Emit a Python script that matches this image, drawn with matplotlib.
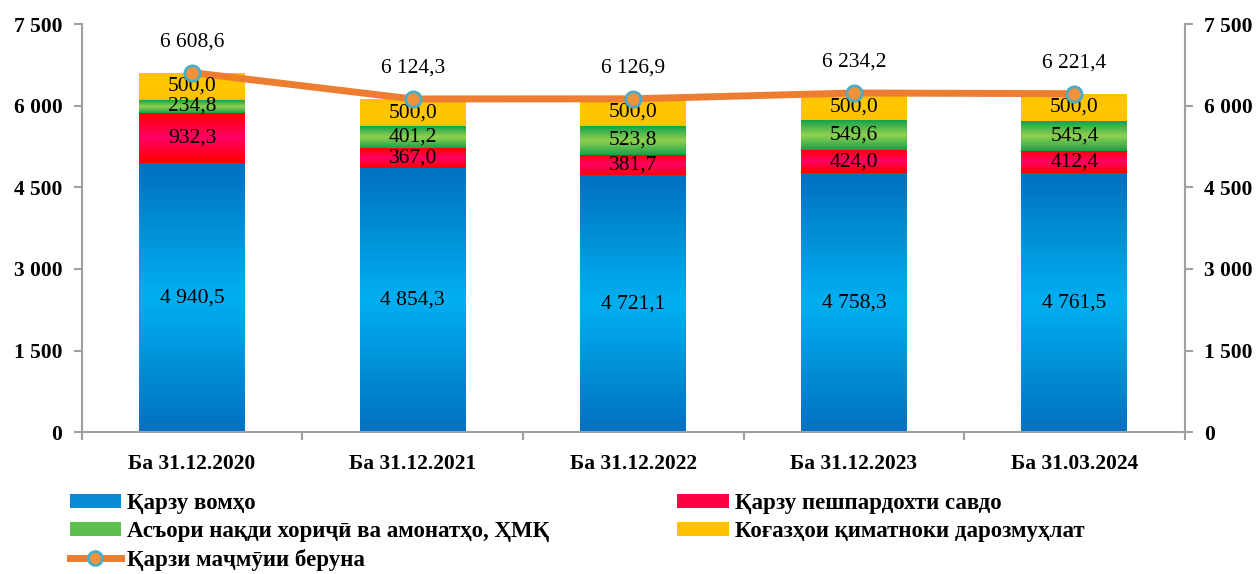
import numpy as np
import matplotlib
matplotlib.use('Agg')
import matplotlib.pyplot as plt
from matplotlib.colors import LinearSegmentedColormap
from matplotlib.patches import Patch
from matplotlib.lines import Line2D

plt.rcParams['font.family'] = ['Liberation Serif', 'DejaVu Serif']

# данные
categories = ['Ба 31.12.2020', 'Ба 31.12.2021', 'Ба 31.12.2022', 'Ба 31.12.2023', 'Ба 31.03.2024']
loans = [4940.5, 4854.3, 4721.1, 4758.3, 4761.5]
trade_credit = [932.3, 367.0, 381.7, 424.0, 412.4]
currency_deposits = [234.8, 401.2, 523.8, 549.6, 545.4]
securities = [500.0, 500.0, 500.0, 500.0, 500.0]
total_debt = [6608.6, 6124.3, 6126.9, 6234.2, 6221.4]

series_names = ['Қарзу вомҳо', 'Қарзу пешпардохти савдо',
                'Асъори нақди хориҷӣ ва амонатҳо, ҲМҚ', 'Коғазҳои қиматноки дарозмуҳлат']
line_name = 'Қарзи маҷмӯии беруна'


def fmt(v, dec=1):
    s = f'{v:,.{dec}f}'
    return s.replace(',', ' ').replace('.', ',')


# градиенты: край - середина - край
grads = [
    ['#0070C0', '#00B0F0', '#0070C0'],
    ['#FF0000', '#FF0066', '#FF0000'],
    ['#16A34A', '#92D050', '#16A34A'],
    ['#FFC000', '#FFC800', '#FFC000'],
]
legend_colors = ['#0A8AD6', '#FF0044', '#5CC04C', '#FFC000']

fig = plt.figure(figsize=(12.59, 5.74), dpi=100)
ax = fig.add_axes([0.065, 0.247, 0.876, 0.711])

x = np.arange(len(categories))
width = 0.48
bottom = np.zeros(len(categories))
for vals, g in zip([loans, trade_credit, currency_deposits, securities], grads):
    bars = ax.bar(x, vals, width, bottom=bottom, facecolor='none', edgecolor='none', zorder=2)
    cmap = LinearSegmentedColormap.from_list('g', g)
    grad = np.linspace(0, 1, 64).reshape(-1, 1)
    for b in bars:
        x0, y0 = b.get_x(), b.get_y()
        im = ax.imshow(grad, cmap=cmap, aspect='auto', zorder=2,
                       extent=[x0, x0 + b.get_width(), y0, y0 + b.get_height()])
        im.set_clip_path(b)
    for xi, bi, v in zip(x, bottom, vals):
        ax.text(xi, bi + v / 2, fmt(v), ha='center', va='center', fontsize=15.5, zorder=5)
    bottom += np.array(vals)

ax.plot(x, total_debt, color='#ED7D31', lw=5, zorder=4, solid_capstyle='round')
ax.plot(x, total_debt, ls='none', marker='o', ms=11, mfc='#F0913C', mec='#4BACC6', mew=2, zorder=6)
for xi, v in zip(x, total_debt):
    ax.annotate(fmt(v), (xi, v), xytext=(0, 22), textcoords='offset points',
                ha='center', va='center', fontsize=15.5)

ax.set_xlim(-0.5, len(categories) - 0.5)
ax.set_ylim(0, 7500)
yt = np.arange(0, 7501, 1500)
ax.set_yticks(yt)
ax.set_yticklabels([fmt(t, 0) for t in yt], fontsize=15.5, fontweight='bold')
ax.set_xticks(x)
ax.set_xticklabels(categories, fontsize=15.5, fontweight='bold')
ax.set_xticks(np.arange(-0.5, len(categories), 1), minor=True)
ax.tick_params(axis='x', which='major', length=0, pad=16)
ax.tick_params(axis='x', which='minor', length=6, color='#A0A0A0', width=1.5)
ax.tick_params(axis='y', length=6, color='#A0A0A0', width=1.5, pad=8)
for s in ['top', 'right']:
    ax.spines[s].set_visible(False)
for s in ['left', 'bottom']:
    ax.spines[s].set_color('#A0A0A0')
    ax.spines[s].set_linewidth(1.5)

ax2 = ax.twinx()
ax2.set_ylim(0, 7500)
ax2.set_yticks(yt)
ax2.set_yticklabels([fmt(t, 0) for t in yt], fontsize=15.5, fontweight='bold')
ax2.tick_params(axis='y', length=6, color='#A0A0A0', width=1.5, pad=8)
for s in ['top', 'left', 'bottom']:
    ax2.spines[s].set_visible(False)
ax2.spines['right'].set_color('#A0A0A0')
ax2.spines['right'].set_linewidth(1.5)

handles = [Patch(facecolor=legend_colors[0]), Patch(facecolor=legend_colors[2]),
           Line2D([], [], color='#ED7D31', lw=5, marker='o', ms=10, mfc='#F0913C', mec='#4BACC6', mew=2),
           Patch(facecolor=legend_colors[1]), Patch(facecolor=legend_colors[3])]
labels = [series_names[0], series_names[2], line_name, series_names[1], series_names[3]]
fig.legend(handles, labels, ncol=2, loc='upper left', bbox_to_anchor=(0.048, 0.157),
           frameon=False, prop={'size': 16.5, 'weight': 'bold'},
           handlelength=2.25, handleheight=0.55,
           handletextpad=0.25, labelspacing=0.3, columnspacing=5.6, borderaxespad=0)

fig.savefig('out.png', dpi=100)
